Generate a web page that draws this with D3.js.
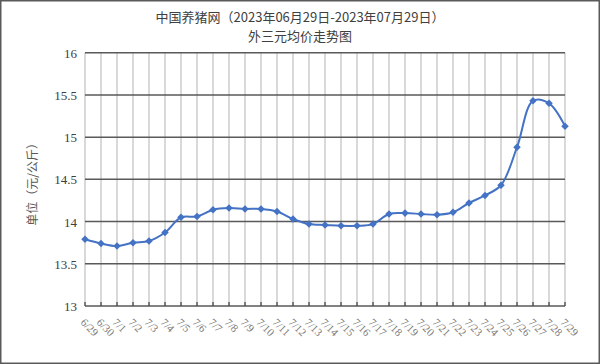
<!DOCTYPE html>
<html>
<head>
<meta charset="utf-8">
<script src="https://cdn.jsdelivr.net/npm/d3@7"></script>
<style>
  body { margin: 0; background: #fff; }
  svg { display: block; }
</style>
</head>
<body>
<div id="chart"></div>
<script>
// dates on the x axis
const dates = ["6/29", "6/30", "7/1", "7/2", "7/3", "7/4", "7/5", "7/6", "7/7", "7/8",
  "7/9", "7/10", "7/11", "7/12", "7/13", "7/14", "7/15", "7/16", "7/17", "7/18",
  "7/19", "7/20", "7/21", "7/22", "7/23", "7/24", "7/25", "7/26", "7/27", "7/28", "7/29"]
// price (yuan / kg)
const prices = [13.79, 13.74, 13.71, 13.75, 13.77, 13.87, 14.05, 14.06, 14.14, 14.16,
  14.15, 14.15, 14.12, 14.03, 13.97, 13.96, 13.95, 13.95, 13.97, 14.09,
  14.10, 14.09, 14.08, 14.11, 14.22, 14.31, 14.43, 14.88, 15.43, 15.40, 15.13]
const yTicks = [13, 13.5, 14, 14.5, 15, 15.5, 16]
const titleLines = ["中国养猪网（2023年06月29日-2023年07月29日）", "外三元均价走势图"]
const yLabel = "单位（元/公斤）"

const width = 600, height = 364
const margin = {left: 85, right: 35, top: 52.7, bottom: 58}
const serif = "'Liberation Serif', 'Noto Sans CJK SC', serif"
const cjk = "'Noto Sans CJK SC', sans-serif"

const svg = d3.select("#chart").append("svg")
    .attr("width", width)
    .attr("height", height)

// outer border
svg.append("rect")
    .attr("x", 0.75).attr("y", 0.75)
    .attr("width", width - 1.5).attr("height", height - 1.5)
    .attr("fill", "#fff")
    .attr("stroke", "#5a5a5a")
    .attr("stroke-width", 1.5)

// title
svg.selectAll(".title")
    .data(titleLines)
    .join("text")
    .attr("class", "title")
    .attr("x", width / 2)
    .attr("y", (d, i) => 22 + i * 19)
    .attr("text-anchor", "middle")
    .style("font-family", cjk)
    .style("font-size", "13px")
    .style("fill", "#404040")
    .text(d => d)

const xScale = d3.scalePoint()
    .domain(dates)
    .range([margin.left, width - margin.right])

const yScale = d3.scaleLinear()
    .domain([13, 16])
    .range([height - margin.bottom, margin.top])

// vertical gridlines
svg.append("g")
    .selectAll("line")
    .data(dates)
    .join("line")
    .attr("x1", d => xScale(d)).attr("x2", d => xScale(d))
    .attr("y1", yScale(16)).attr("y2", yScale(13))
    .attr("stroke", "#d9d9d9")
    .attr("stroke-width", 2)

// horizontal gridlines
svg.append("g")
    .selectAll("line")
    .data(yTicks)
    .join("line")
    .attr("x1", margin.left).attr("x2", width - margin.right)
    .attr("y1", d => yScale(d)).attr("y2", d => yScale(d))
    .attr("stroke", "#595959")
    .attr("stroke-width", 1.5)

// y tick labels
svg.append("g")
    .selectAll("text")
    .data(yTicks)
    .join("text")
    .attr("x", 77)
    .attr("y", d => yScale(d) + 5)
    .attr("text-anchor", "end")
    .style("font-family", serif)
    .style("font-size", "13px")
    .style("fill", "#404040")
    .text(d => d3.format("")(d))

// bottom axis ticks (pointing up)
svg.append("g")
    .selectAll("line")
    .data(dates)
    .join("line")
    .attr("x1", d => xScale(d)).attr("x2", d => xScale(d))
    .attr("y1", yScale(13) - 4).attr("y2", yScale(13))
    .attr("stroke", "#404040")
    .attr("stroke-width", 1.2)

// x labels, rotated
svg.append("g")
    .selectAll("text")
    .data(dates)
    .join("text")
    .attr("transform", d => `translate(${xScale(d) - 5},${yScale(13) + 17}) rotate(45)`)
    .style("font-family", serif)
    .style("font-size", "11px")
    .style("fill", "#7a7a7a")
    .text(d => d)

// y axis title
svg.append("text")
    .attr("transform", `translate(37,${(yScale(13) + yScale(16)) / 2 + 2}) rotate(-90)`)
    .attr("text-anchor", "middle")
    .style("font-family", cjk)
    .style("font-size", "12px")
    .style("fill", "#595959")
    .text(yLabel)

// price line
const line = d3.line()
    .x((d, i) => xScale(dates[i]))
    .y(d => yScale(d))
    .curve(d3.curveCatmullRom.alpha(0.5))

svg.append("path")
    .datum(prices)
    .attr("d", line)
    .attr("fill", "none")
    .attr("stroke", "#4472c4")
    .attr("stroke-width", 2)

// diamond markers
svg.append("g")
    .selectAll("path")
    .data(prices)
    .join("path")
    .attr("transform", (d, i) => `translate(${xScale(dates[i])},${yScale(d)})`)
    .attr("d", d3.symbol(d3.symbolDiamond2, 36))
    .attr("fill", "#4472c4")
</script>
</body>
</html>
